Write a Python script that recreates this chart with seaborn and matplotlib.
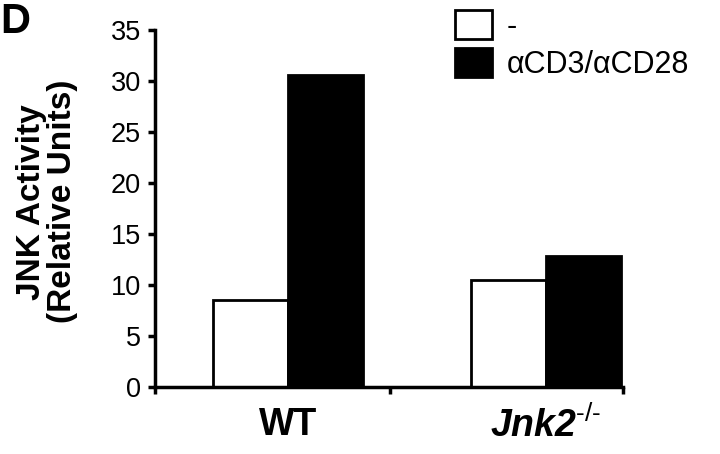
import pandas as pd
import seaborn as sns
import matplotlib
matplotlib.use("Agg")
from matplotlib import pyplot as plt
from matplotlib.patches import Patch

# values
genotypes = ["WT", "Jnk2"]
treatments = ["-", "\u03b1CD3/\u03b1CD28"]
unstimulated = [8.6, 10.5]
stimulated = [30.6, 12.9]
tick_labels = ["WT", r"$\mathbfit{Jnk2}^{\text{-/-}}$"]

df = pd.DataFrame({
    "genotype": genotypes * 2,
    "treatment": [treatments[0]] * 2 + [treatments[1]] * 2,
    "activity": unstimulated + stimulated,
})

sns.set_style("white")
plt.rcParams["font.family"] = ["Liberation Sans", "DejaVu Sans"]
plt.rcParams["text.color"] = "black"
plt.rcParams["xtick.color"] = "black"
plt.rcParams["ytick.color"] = "black"
plt.rcParams["axes.labelcolor"] = "black"
plt.rcParams["mathtext.fontset"] = "custom"
plt.rcParams["mathtext.rm"] = "Liberation Sans"
plt.rcParams["mathtext.bfit"] = "Liberation Sans:italic:bold"

fig = plt.figure(figsize=(7.2, 4.54), dpi=100)
ax = fig.add_axes([0.215, 0.147, 0.65, 0.786])

sns.barplot(data=df, x="genotype", y="activity", hue="treatment",
            palette=["white", "black"], edgecolor="black", linewidth=2,
            width=0.58, ax=ax, legend=False)

ax.set_ylim(0, 35)
ax.set_xlim(-0.516, 1.298)
ax.set_yticks(range(0, 36, 5))
ax.tick_params(axis="y", labelsize=19.5, length=5, width=2.5, direction="out",
               left=True, pad=5)
ax.set_xticks([0, 1])
ax.set_xticklabels(tick_labels, fontsize=27, fontweight="bold")
ax.tick_params(axis="x", length=0, pad=14)
ax.set_xticks([-0.516, 0.395, 1.298], minor=True)
ax.tick_params(axis="x", which="minor", length=5, width=2.5, bottom=True)
ax.set_xlabel("")
ax.set_ylabel("JNK Activity\n(Relative Units)", fontsize=24,
              fontweight="bold", linespacing=1.0)
ax.yaxis.set_label_coords(-0.165, 0.52)

for side in ["top", "right"]:
    ax.spines[side].set_visible(False)
for side in ["left", "bottom"]:
    ax.spines[side].set_linewidth(2.5)
    ax.spines[side].set_color("black")

handles = [Patch(facecolor="white", edgecolor="black", linewidth=2),
           Patch(facecolor="black", edgecolor="black", linewidth=2)]
fig.legend(handles, treatments, loc="upper left",
           bbox_to_anchor=(0.615, 1.005), frameon=False, fontsize=22,
           handlelength=1.2, handleheight=1.1, handletextpad=0.5,
           labelspacing=0.2, borderaxespad=0)

fig.text(0.0, 0.995, "D", fontsize=30, fontweight="bold", va="top", ha="left")

fig.savefig("out.png", dpi=100)
